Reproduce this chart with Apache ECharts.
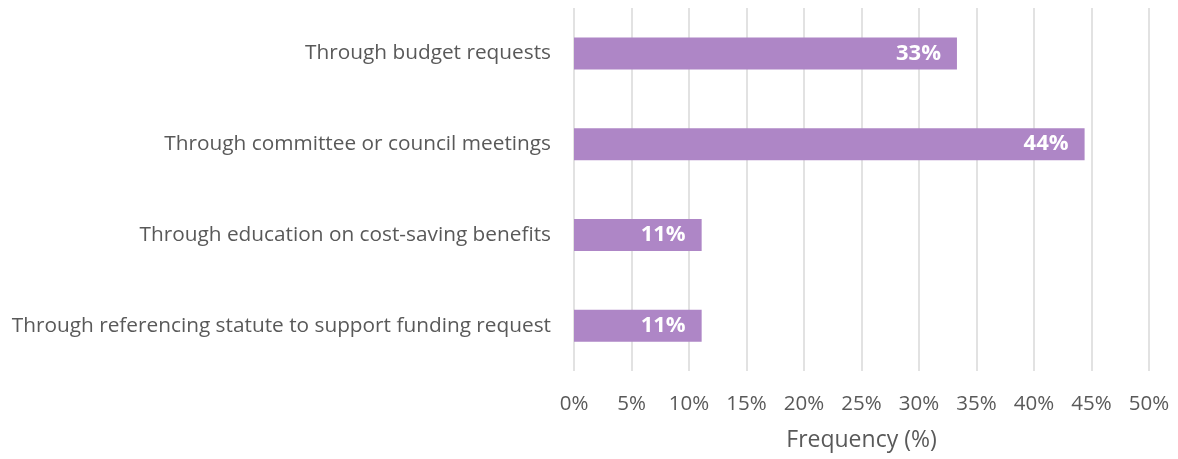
<!DOCTYPE html>
<html>
<head>
<meta charset="utf-8">
<style>
  html, body { margin: 0; padding: 0; background: #ffffff; }
  #chart { width: 1178px; height: 459px; }
</style>
<script src="https://cdn.jsdelivr.net/npm/echarts@6/dist/echarts.min.js"></script>
</head>
<body>
<div id="chart"></div>
<script>
// Survey answers, listed top to bottom
const categories = [
  'Through budget requests',
  'Through committee or council meetings',
  'Through education on cost-saving benefits',
  'Through referencing statute to support funding request'
];
// Share of respondents, in percent
const frequency = [33.3, 44.4, 11.1, 11.1];
// Value axis ticks (percent)
const tickValues = [0, 5, 10, 15, 20, 25, 30, 35, 40, 45, 50];
const axisTitle = 'Frequency (%)';

const FONT = '"Open Sans", Lato, sans-serif';
const chart = echarts.init(document.getElementById('chart'), null, { renderer: 'canvas' });

chart.setOption({
  backgroundColor: '#ffffff',
  animation: false,
  grid: { left: 574, right: 29, top: 8, bottom: 88, containLabel: false },
  xAxis: {
    type: 'value',
    min: tickValues[0],
    max: tickValues[tickValues.length - 1],
    interval: tickValues[1] - tickValues[0],
    name: axisTitle,
    nameLocation: 'middle',
    nameGap: 58,
    nameTextStyle: { fontFamily: FONT, fontSize: 23, color: '#595959' },
    axisLine: { show: false },
    axisTick: { show: false },
    axisLabel: {
      fontFamily: FONT, fontSize: 20.5, color: '#595959', margin: 23,
      formatter: v => v + '%'
    },
    splitLine: { show: true, lineStyle: { color: '#d9d9d9', width: 1.5 } }
  },
  yAxis: {
    type: 'category',
    data: categories,
    inverse: true,
    axisLine: { show: false },
    axisTick: { show: false },
    axisLabel: { fontFamily: FONT, fontSize: 20.8, color: '#595959', margin: 23 }
  },
  series: [{
    type: 'bar',
    data: frequency,
    barWidth: 32,
    itemStyle: { color: '#ae86c6' },
    label: {
      show: true,
      position: 'insideRight',
      distance: 16,
      fontFamily: FONT,
      fontSize: 22,
      fontWeight: 'bold',
      color: '#ffffff',
      formatter: p => Math.round(p.value) + '%'
    }
  }]
});
</script>
</body>
</html>
